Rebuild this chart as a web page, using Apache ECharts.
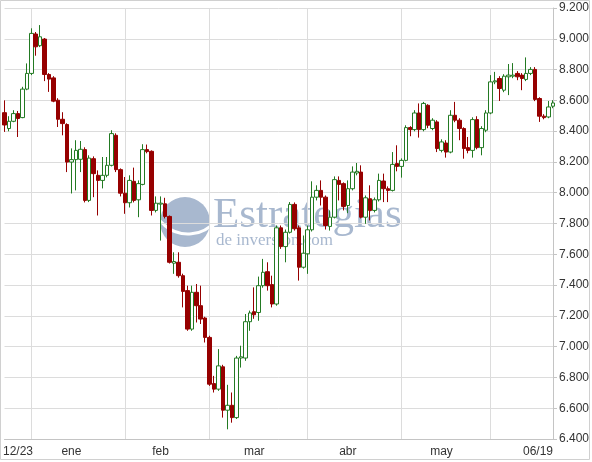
<!DOCTYPE html>
<html><head><meta charset="utf-8">
<script src="https://cdn.jsdelivr.net/npm/echarts@6/dist/echarts.min.js"></script>
<style>html,body{margin:0;padding:0;background:#fff}#c{width:592px;height:462px}</style>
</head><body><div id="c"></div>
<script>
const dates = ['12/23','12/24','12/26','12/29','12/30','12/31',
'01/02','01/05','01/06','01/07','01/08','01/09','01/12','01/13','01/14','01/15','01/16','01/19','01/20','01/21','01/22','01/23','01/26','01/27','01/28','01/29','01/30',
'02/02','02/03','02/04','02/05','02/06','02/09','02/10','02/11','02/12','02/13','02/17','02/18','02/19','02/20','02/23','02/24','02/25','02/26','02/27',
'03/02','03/03','03/04','03/05','03/06','03/09','03/10','03/11','03/12','03/13','03/16','03/17','03/18','03/19','03/20','03/23','03/24','03/25','03/26','03/27','03/30','03/31',
'04/01','04/02','04/03','04/06','04/07','04/08','04/09','04/13','04/14','04/15','04/16','04/17','04/20','04/21','04/22','04/23','04/24','04/27','04/28','04/29','04/30',
'05/01','05/04','05/05','05/06','05/07','05/08','05/11','05/12','05/13','05/14','05/15','05/18','05/19','05/20','05/21','05/22','05/26','05/27','05/28','05/29',
'06/01','06/02','06/03','06/04','06/05','06/08','06/09','06/10','06/11','06/12','06/15','06/16','06/17','06/18','06/19'];

const openV = [8520,8417,8464,8514,8488,8673,8775,9031,8955,8998, 8768,8746,8601,8477,8443,8199,8215,8217,8280,7950,
 8221,8113,8080,8113,8178,8373,8150,7997,7935,8074, 7954,8054,8280,8269,7885,7926,7928,7846,7542,7548,
 7461,7364,7114,7353,7266,7186,7060,6760,6724,6869, 6587,6619,6539,6926,6926,7162,7227,7222,7396,7487,
 7403,7277,7772,7650,7743,7924,7772,7516,7603,7759, 7971,8015,7971,7781,7841,8080,8059,7917,8026,8128,
 8134,7841,7961,7885,7954,8076,8026,8015,8189,8171, 8210,8423,8410,8518,8410,8568,8417,8460,8275,8323,
 8264,8503,8471,8417,8293,8275,8475,8293,8406,8518, 8720,8742,8666,8753,8757,8775,8764,8736,8775,8801,
 8612,8497,8492,8562];
const closeV = [8440,8464,8514,8482,8673,8775,9035,8948,9013,8768, 8738,8595,8477,8449,8199,8215,8275,8282,7950,8225,
 8124,8080,8113,8178,8384,8150,7997,7935,8080,7950, 8059,8280,8267,7885,7932,7932,7846,7548,7553,7461,
 7359,7114,7353,7266,7179,7060,6756,6724,6875,6587, 6619,6539,6926,6934,7162,7219,7207,7396,7483,7396,
 7277,7772,7650,7743,7924,7766,7516,7607,7759,7971, 8015,7971,7787,7841,8085,8054,7911,8026,8134,8139,
 7841,7967,7885,7954,8080,8026,8015,8184,8171,8210, 8423,8410,8518,8410,8580,8438,8471,8287,8330,8264,
 8503,8471,8417,8287,8275,8475,8293,8417,8518,8720, 8727,8677,8757,8764,8764,8753,8742,8775,8801,8606,
 8497,8488,8557,8583];
const lowV = [8395,8399,8458,8362,8484,8666,8764,8890,8946,8725, 8655,8588,8427,8373,8134,7995,8015,8134,7937,7939,
 7971,7852,8028,8100,8171,8134,7976,7863,7904,7937, 7841,8048,8256,7852,7872,7689,7833,7540,7473,7448,
 7255,7103,7103,7157,7147,7027,6745,6702,6713,6539, 6463,6506,6530,6864,6908,7103,7181,7168,7383,7364,
 7255,7266,7635,7548,7735,7754,7429,7507,7473,7748, 7950,7917,7761,7754,7833,7950,7885,7867,8015,8113,
 7833,7798,7820,7872,7943,7939,7939,8008,8139,8098, 8204,8367,8399,8358,8399,8419,8406,8264,8262,8228,
 8256,8458,8341,8221,8256,8228,8282,8243,8393,8510, 8705,8596,8653,8634,8744,8731,8666,8725,8764,8595,
 8460,8477,8484,8549];
const highV = [8600,8497,8536,8531,8688,8840,9068,9044,9089,9005, 8777,8757,8614,8523,8451,8288,8341,8336,8295,8243,
 8236,8145,8232,8232,8406,8386,8158,8102,8113,8163, 8080,8315,8313,8275,7976,7976,7967,7852,7613,7613,
 7474,7396,7396,7407,7396,7194,7071,6810,6984,6882, 6752,6702,6940,7006,7212,7234,7385,7455,7570,7548,
 7461,7787,7787,7761,7939,7937,7787,7722,7787,8074, 8048,8080,7982,7885,8106,8106,8067,8080,8171,8193,
 8178,7982,8048,7969,8124,8124,8041,8264,8308,8223, 8438,8432,8536,8580,8590,8575,8484,8471,8347,8341,
 8536,8590,8484,8425,8362,8490,8497,8432,8536,8764, 8785,8757,8770,8836,8842,8790,8777,8879,8816,8816,
 8620,8510,8596,8601];

const tickDates = ['12/23','01/15','02/12','03/16','04/15','05/14','06/19'];
const tickLabels = ['12/23','ene','feb','mar','abr','may','06/19'];
const yMin = 6400, yMax = 9200, yStep = 200;

const candles = dates.map((d, i) => [openV[i], closeV[i], lowV[i], highV[i]]);
const monthStart = new Set();
dates.forEach((d, i) => { if (i > 0 && d.slice(0, 2) !== dates[i - 1].slice(0, 2)) monthStart.add(i); });
const tickMap = {};
tickDates.forEach((d, k) => { tickMap[d] = tickLabels[k]; });

const FONT = 'Liberation Sans';
const GRID = '#dcdcdc';
const AXIS = '#c4c4c4';
const TXT = '#333';
const WM = '#a8b8cf';

const chart = echarts.init(document.getElementById('c'), null, { renderer: 'canvas' });
chart.setOption({
  animation: false,
  backgroundColor: '#fff',
  grid: { left: 2, right: 38, top: 8, bottom: 23 },
  xAxis: {
    type: 'category', data: dates, boundaryGap: false,
    axisLine: { show: true, lineStyle: { color: AXIS } },
    axisTick: { show: false },
    axisLabel: {
      interval: (i, v) => v in tickMap,
      formatter: (v, i) => {
        if (i === 0) return '{f|' + tickMap[v] + '}';
        if (i === dates.length - 1) return '{l|' + tickMap[v] + '}';
        return tickMap[v];
      },
      color: TXT, fontSize: 12, fontFamily: FONT, margin: 7,
      rich: {
        f: { padding: [0, 0, 0, 27], color: TXT, fontSize: 12, fontFamily: FONT },
        l: { padding: [0, 30, 0, 0], color: TXT, fontSize: 12, fontFamily: FONT }
      }
    },
    splitLine: { show: true, interval: (i) => monthStart.has(i), lineStyle: { color: GRID, width: 1 } }
  },
  yAxis: {
    type: 'value', position: 'right', min: yMin, max: yMax, interval: yStep,
    axisLine: { show: true, lineStyle: { color: AXIS } },
    axisTick: { show: true, length: 4, lineStyle: { color: AXIS } },
    axisLabel: { formatter: v => (v / 1000).toFixed(3), color: TXT, fontSize: 12, fontFamily: FONT, margin: 6 },
    splitLine: { show: true, lineStyle: { color: GRID, width: 1 } }
  },
  series: [{
    type: 'candlestick', data: candles, barWidth: 4, clip: false,
    itemStyle: { color: '#ffffff', borderColor: '#237a23', color0: '#960000', borderColor0: '#960000', borderWidth: 1 }
  }],
  graphic: { elements: [
    { type: 'circle', silent: true, z: -10, shape: { cx: 185, cy: 222, r: 25 }, style: { fill: WM } },
    { type: 'arc', silent: true, z: -9, shape: { cx: 188, cy: 198, r: 36, startAngle: Math.PI * 0.22, endAngle: Math.PI * 0.85 }, style: { stroke: '#fff', lineWidth: 3, fill: null } },
    { type: 'text', silent: true, z: -10, x: 213, y: 237, style: { text: 'Estrategias', font: '43px "Liberation Serif"', fill: WM, textVerticalAlign: 'bottom' } },
    { type: 'text', silent: true, z: -10, x: 216, y: 249, style: { text: 'de inversion.com', font: '17px "Liberation Serif"', fill: WM, textVerticalAlign: 'bottom' } },
    { type: 'rect', silent: true, z: -20, shape: { x: 0.5, y: 0.5, width: 589, height: 459 }, style: { fill: null, stroke: '#d0d0d0', lineWidth: 1 } }
  ] }
});
</script>
</body></html>
